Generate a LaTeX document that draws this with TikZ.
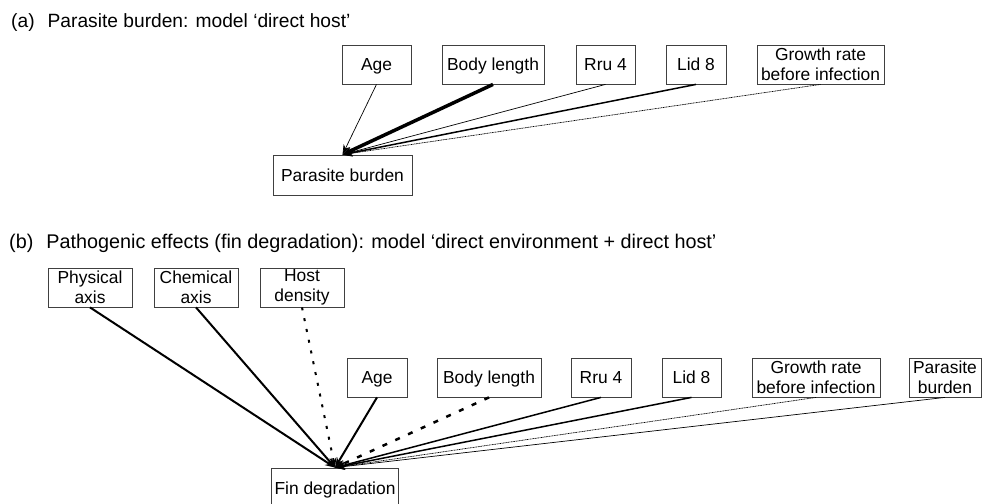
\documentclass[tikz,border=0pt]{standalone}
\usepackage{fontspec}
\setmainfont{Liberation Sans}
\usepackage{tikz}
\usetikzlibrary{arrows.meta}
\newcommand{\boxfont}{\fontsize{17.4}{19.5}\selectfont}
\newcommand{\headfont}{\fontsize{19.2}{22}\selectfont}
\tikzstyle{heading} = [anchor=base west, inner sep=0pt, font=\headfont]
\tikzstyle{var} = [rectangle, draw=black!75, line width=0.8pt, text centered, align=center, minimum height=39pt, inner xsep=3pt, inner ysep=1pt, font=\boxfont]
\tikzstyle{oneline} = [var, text height=12.6pt, text depth=0.6pt]
\tikzstyle{connector} = [-{Stealth[length=10pt,width=7pt]}]
\tikzstyle{weak} = [connector, line width=0.7pt]
\tikzstyle{moderate} = [connector, line width=1.5pt]
\tikzstyle{strong} = [connector, line width=2pt]
\tikzstyle{strongest} = [connector, line width=3.5pt]
\tikzstyle{negligible} = [connector, line width=0.7pt, dash pattern=on 1pt off 0.6pt]
\tikzstyle{dottedlink} = [connector, line width=2pt, dash pattern=on 3pt off 8pt]
\tikzstyle{dashedlink} = [connector, line width=2.5pt, dash pattern=on 5pt off 9pt]

\begin{document}
\begin{tikzpicture}[x=1pt, y=-1pt]
        \useasboundingbox (0,0) rectangle (984,503);
        % (a) parasite burden
        \node (titleA) [heading] at (11,28) {(a)\hspace{13pt}Parasite burden: model ‘direct host’};
        \node (ageA) [oneline, minimum width=69pt] at (376.5,64.5) {Age};
        \node (bodyA) [oneline, minimum width=102pt] at (493,64.5) {Body length};
        \node (rruA) [oneline, minimum width=59pt] at (605.5,64.5) {Rru 4};
        \node (lidA) [oneline, minimum width=60pt] at (696,64.5) {Lid 8};
        \node (growthA) [var, minimum width=127pt] at (820.5,64.5) {Growth rate\\before infection};
        \node (burdenA) [oneline, minimum width=139pt, minimum height=40pt] at (342.5,175) {Parasite burden};
        \draw [negligible] (growthA.south) -- (burdenA.north);
        \draw [moderate] (lidA.south) -- (burdenA.north);
        \draw [weak] (rruA.south) -- (burdenA.north);
        \draw [strongest] (bodyA.south) -- (burdenA.north);
        \draw [weak] (ageA.south) -- (burdenA.north);
        % (b) fin degradation
        \node (titleB) [heading, font=\fontsize{19.8}{22}\selectfont] at (9,248) {(b)\hspace{13pt}Pathogenic effects (fin degradation): model ‘direct environment + direct host’};
        \node (phys) [var, minimum width=84pt] at (90,287.5) {Physical\\axis};
        \node (chem) [var, minimum width=84pt] at (196,287.5) {Chemical\\axis};
        \node (hostd) [var, minimum width=84pt] at (302,287.5) {Host\\density};
        \node (ageB) [oneline, minimum width=60pt] at (377,377.5) {Age};
        \node (bodyB) [oneline, minimum width=104pt] at (489,377.5) {Body length};
        \node (rruB) [oneline, minimum width=60pt] at (601,377.5) {Rru 4};
        \node (lidB) [oneline, minimum width=59pt] at (691.5,377.5) {Lid 8};
        \node (growthB) [var, minimum width=128pt] at (816,377.5) {Growth rate\\before infection};
        \node (burdenB) [var, minimum width=72pt] at (945,377.5) {Parasite\\burden};
        \node (fin) [oneline, minimum width=124pt, minimum height=40pt] at (335,488) {Fin degradation};
        \draw [weak] (burdenB.south) -- (fin.north);
        \draw [negligible] (growthB.south) -- (fin.north);
        \draw [moderate] (lidB.south) -- (fin.north);
        \draw [moderate] (rruB.south) -- (fin.north);
        \draw [dashedlink] (bodyB.south) -- (fin.north);
        \draw [strong] (ageB.south) -- (fin.north);
        \draw [dottedlink] (hostd.south) -- (fin.north);
        \draw [strong] (chem.south) -- (fin.north);
        \draw [strong] (phys.south) -- (fin.north);
    \end{tikzpicture}
\end{document}
